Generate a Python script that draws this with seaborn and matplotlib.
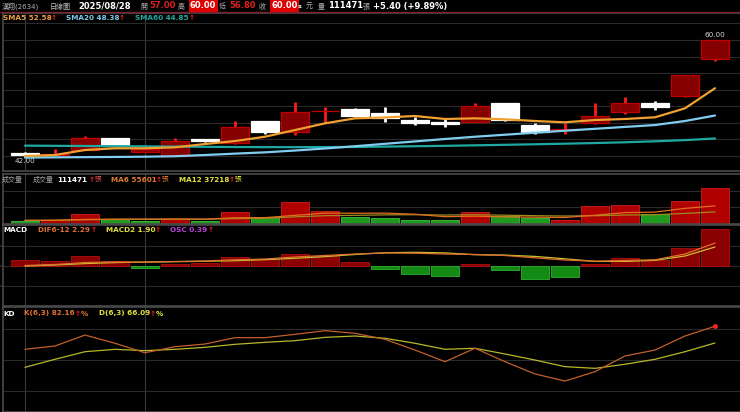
import numpy as np
import pandas as pd
import seaborn as sns
import matplotlib.pyplot as plt

# 漢翔(2634) daily chart, last 24 sessions up to 2025/08/28
opens = [42.6, 42.35, 43.1, 45.0, 42.8, 42.2, 44.7, 44.1, 47.55, 45.9, 49.1, 49.4,
         48.7, 47.7, 47.45, 47.45, 50.35, 47.0, 46.2, 47.2, 48.9, 50.25, 51.4, 57.0]
highs = [42.7, 43.2, 45.3, 45.0, 43.4, 45.0, 44.75, 47.6, 47.55, 50.45, 49.75, 49.55,
         49.75, 48.1, 47.8, 50.35, 50.35, 47.2, 47.2, 50.35, 51.2, 50.65, 54.6, 60.0]
lows = [42.0, 42.3, 43.1, 43.7, 42.7, 42.2, 44.35, 44.0, 45.5, 45.4, 47.2, 48.1,
        47.45, 46.85, 46.65, 47.4, 47.6, 45.55, 45.6, 47.1, 48.6, 49.25, 51.2, 56.8]
closes = [42.3, 42.5, 45.0, 43.75, 43.3, 44.45, 44.4, 46.65, 45.9, 48.9, 49.15, 48.35,
          47.95, 47.2, 47.05, 49.9, 47.7, 45.9, 46.3, 48.3, 50.25, 49.65, 54.6, 60.0]

sma5 = [42.15, 42.31, 43.08, 43.34, 43.34, 43.49, 44.0, 44.46, 45.12, 46.15, 47.18, 47.95,
        48.08, 48.31, 47.85, 47.95, 47.8, 47.54, 47.34, 47.69, 47.85, 48.11, 49.49, 52.58]
sma20 = [41.92, 41.95, 41.98, 42.01, 42.05, 42.12, 42.31, 42.52, 42.72, 43.0, 43.31, 43.66,
         44.03, 44.4, 44.77, 45.12, 45.43, 45.74, 46.05, 46.34, 46.63, 46.92, 47.54, 48.38]
sma60 = [43.75, 43.72, 43.7, 43.67, 43.64, 43.6, 43.57, 43.54, 43.52, 43.52, 43.53, 43.55,
         43.6, 43.66, 43.72, 43.8, 43.88, 43.96, 44.05, 44.15, 44.27, 44.42, 44.6, 44.85]

volume = [10100, 12300, 29800, 15400, 9200, 14400, 10100, 37800, 20600, 67600, 39900, 22400,
          19300, 12300, 13200, 36900, 25500, 19300, 12300, 56200, 59300, 30700, 71600, 111471]
vol_up = [0, 1, 1, 0, 0, 1, 0, 1, 0, 1, 1, 0, 0, 0, 0, 1, 0, 0, 1, 1, 1, 0, 1, 1]
vol_ma6 = [11000, 11500, 14000, 15000, 15000, 15500, 15000, 19000, 19500, 26600, 33500, 33000,
           33500, 30000, 22400, 24000, 21800, 21000, 20000, 27000, 35000, 36500, 48000, 55601]
vol_ma12 = [11000, 11500, 13000, 14000, 14200, 14500, 14500, 16500, 17500, 22000, 25500, 26600,
            28000, 28500, 27500, 28300, 27000, 25500, 24500, 25500, 27500, 28500, 32500, 37218]

dif = [0.05, 0.15, 0.35, 0.40, 0.38, 0.45, 0.50, 0.62, 0.70, 0.90, 1.05, 1.20,
       1.30, 1.28, 1.20, 1.15, 1.05, 0.82, 0.60, 0.48, 0.55, 0.62, 1.20, 2.29]
macd = [-0.01, 0.10, 0.24, 0.34, 0.40, 0.43, 0.47, 0.53, 0.63, 0.77, 0.94, 1.15,
        1.33, 1.37, 1.31, 1.13, 1.09, 0.96, 0.72, 0.46, 0.46, 0.56, 1.00, 1.90]
osc = [0.064, 0.053, 0.11, 0.056, -0.018, 0.018, 0.029, 0.093, 0.071, 0.128, 0.11, 0.046,
       -0.032, -0.088, -0.106, 0.018, -0.043, -0.142, -0.12, 0.018, 0.088, 0.064, 0.195, 0.39]

k_line = [60.0, 63.2, 73.7, 65.8, 56.7, 62.5, 65.1, 71.2, 71.2, 74.4, 77.9, 75.4,
          69.6, 59.3, 48.1, 61.0, 48.1, 36.3, 29.5, 38.5, 53.6, 59.3, 72.8, 82.16]
d_line = [42.7, 50.4, 57.7, 60.0, 58.7, 60.0, 61.9, 64.8, 66.7, 68.3, 71.5, 72.8,
          70.6, 65.8, 60.0, 61.0, 55.5, 49.7, 43.3, 41.7, 45.6, 50.4, 57.7, 66.09]

df = pd.DataFrame({'day': np.arange(len(closes)), 'open': opens, 'high': highs, 'low': lows,
                   'close': closes, 'sma5': sma5, 'sma20': sma20, 'sma60': sma60,
                   'vol': volume, 'vol_up': vol_up, 'ma6': vol_ma6, 'ma12': vol_ma12,
                   'dif': dif, 'macd': macd, 'osc': osc, 'k': k_line, 'd': d_line})
df['up'] = df['close'] >= df['open']

W, H = 740, 412
sns.set_theme(style="dark", rc={'axes.facecolor': 'black', 'figure.facecolor': 'black',
                                'grid.color': '#2a2a2a', 'grid.linewidth': 0.8})
plt.rcParams['font.family'] = ['DejaVu Sans', 'Noto Sans CJK TC']

fig = plt.figure(figsize=(7.4, 4.12), dpi=100, facecolor='black')


def panel(top, bottom):
    ax = fig.add_axes([3 / W, 1 - bottom / H, 737 / W, (bottom - top) / H])
    ax.set_facecolor('black')
    ax.set_xlim(-0.733, 23.833)
    ax.set_xticks([])
    ax.tick_params(left=False, labelleft=False, bottom=False, labelbottom=False)
    ax.grid(axis='y')
    ax.spines['right'].set_visible(False)
    for s in ['left', 'top', 'bottom']:
        ax.spines[s].set_color('#4a4a4a')
        ax.spines[s].set_linewidth(1.2)
    for xv in [0, 4]:
        ax.axvline(xv, color='#3a3a3a', lw=0.8, zorder=0)
    return ax


def put(x, y, s, color, size=5.2, weight='bold', **kw):
    fig.text(x / W, 1 - y / H, s, color=color, fontsize=size, fontweight=weight,
             va='center', ha='left', **kw)


# ---- price panel
ax_p = panel(13, 171)
ax_p.set_ylim(39.85, 64.15)
ax_p.set_yticks([42.15, 44.7, 47.25, 49.8, 52.35, 54.9, 57.45, 60.0, 62.55])
wick_col = np.where(df['up'], '#ff1a1a', '#ffffff')
ax_p.vlines(df['day'], df['low'], df['high'], colors=wick_col, lw=2.0, zorder=2)
body_col = np.where(df['up'], '#850000', '#ffffff')
edge_col = np.where(df['up'], '#c00000', '#ffffff')
ax_p.bar(df['day'], (df['close'] - df['open']).abs(), bottom=df[['open', 'close']].min(axis=1),
         width=0.93, color=body_col, edgecolor=edge_col, linewidth=0.9, zorder=3)
sns.lineplot(data=df, x='day', y='sma60', ax=ax_p, color='#1fa8a2', lw=1.6, zorder=4)
sns.lineplot(data=df, x='day', y='sma20', ax=ax_p, color='#80cdef', lw=1.6, zorder=4)
sns.lineplot(data=df, x='day', y='sma5', ax=ax_p, color='#f0a030', lw=1.6, zorder=5)
ax_p.set_xlabel('')
ax_p.set_ylabel('')
ax_p.annotate('60.00', xy=(23, df['high'].max()), xytext=(0, 1.5), textcoords='offset points',
              ha='center', va='bottom', color='#d8d8d8', fontsize=5.2)
ax_p.annotate('42.00', xy=(0, df['low'].min()), xytext=(0, -1), textcoords='offset points',
              ha='center', va='top', color='#d8d8d8', fontsize=5.2)

# ---- volume panel
ax_v = panel(174, 224)
ax_v.set_ylim(0, 153500)
ax_v.set_yticks([51200, 102300])
vcol = np.where(df['vol_up'] == 1, '#b00000', '#1f9a1f')
vedge = np.where(df['vol_up'] == 1, '#d02020', '#40c040')
ax_v.bar(df['day'], df['vol'], width=0.95, color=vcol, edgecolor=vedge, linewidth=0.6, zorder=2)
sns.lineplot(data=df, x='day', y='ma12', ax=ax_v, color='#a08a20', lw=0.9, zorder=3)
sns.lineplot(data=df, x='day', y='ma6', ax=ax_v, color='#e07020', lw=0.9, zorder=3)
ax_v.set_xlabel('')
ax_v.set_ylabel('')

# ---- MACD panel
ax_m = panel(225, 306)
ax_m.set_ylim(-4.0, 4.1)
ax_m.set_yticks([-2, 0, 2])
ax_o = ax_m.twinx()
ax_o.set_ylim(-0.426, 0.436)
ax_o.axis('off')
ocol = np.where(df['osc'] >= 0, '#8b0000', '#138a13')
oedge = np.where(df['osc'] >= 0, '#b01010', '#30b030')
ax_o.bar(df['day'], df['osc'], width=0.95, color=ocol, edgecolor=oedge, linewidth=0.6, zorder=2)
ax_l = ax_m.twinx()
ax_l.set_ylim(-4.0, 4.1)
ax_l.axis('off')
sns.lineplot(data=df, x='day', y='macd', ax=ax_l, color='#c8c030', lw=0.9)
sns.lineplot(data=df, x='day', y='dif', ax=ax_l, color='#e07030', lw=0.9)

# ---- KD panel
ax_k = panel(307, 412)
ax_k.set_ylim(-0.3, 100.7)
ax_k.set_yticks([20, 50, 80])
sns.lineplot(data=df, x='day', y='d', ax=ax_k, color='#b8b828', lw=0.9)
sns.lineplot(data=df, x='day', y='k', ax=ax_k, color='#c0602a', lw=0.9)
ax_k.plot(df['day'].iloc[-1], df['k'].iloc[-1], 'o', color='#ff2020', ms=2.5)
ax_k.set_xlabel('')
ax_k.set_ylabel('')

# ---- header
fig.add_artist(plt.Line2D([0, 1], [1 - 12 / H, 1 - 12 / H], color='#7a2030', lw=1.0))
put(2, 6, '漢翔(2634)', '#b0b0b0', size=5, weight='normal')
put(50, 6, '日線圖', '#c0c0c0', size=5, weight='normal')
put(78, 6, '2025/08/28', 'white', size=6)
put(140, 6, '開', '#b0b0b0', size=5, weight='normal')
put(149, 6, '57.00', '#e02020', size=6)
put(178, 6, '高', '#b0b0b0', size=5, weight='normal')
put(190, 6, '60.00', 'white', size=6, bbox=dict(boxstyle='square,pad=0.15', fc='#e00000', ec='none'))
put(219, 6, '低', '#b0b0b0', size=5, weight='normal')
put(229, 6, '56.80', '#e02020', size=6)
put(259, 6, '收', '#b0b0b0', size=5, weight='normal')
put(271, 6, '60.00', 'white', size=6, bbox=dict(boxstyle='square,pad=0.15', fc='#e00000', ec='none'))
put(298, 6.5, 's', 'white', size=4.5)
put(306, 6, '元', '#b0b0b0', size=5, weight='normal')
put(318, 6, '量', '#b0b0b0', size=5, weight='normal')
put(328, 6, '111471', 'white', size=6)
put(363, 6, '張', '#b0b0b0', size=5, weight='normal')
put(373, 6, '+5.40 (+9.89%)', 'white', size=6)

# ---- panel labels
put(3, 17.5, 'SMA5 52.58', '#e8a040')
put(51, 17.5, '↑', '#ff2020')
put(66, 17.5, 'SMA20 48.38', '#7ec8e8')
put(119, 17.5, '↑', '#ff2020')
put(135, 17.5, 'SMA60 44.85', '#20a8a0')
put(189, 17.5, '↑', '#ff2020')

put(2, 179.5, '成交量', '#a0a0a0', size=5, weight='normal')
put(33, 179.5, '成交量', '#a0a0a0', size=5, weight='normal')
put(57, 179.5, '111471', 'white')
put(89, 179.5, '↑', '#ff2020')
put(95, 179.5, '張', '#e05050', size=4.8, weight='normal')
put(111, 179.5, 'MA6 55601', '#e07a30')
put(156, 179.5, '↑', '#ff2020')
put(162, 179.5, '張', '#e07a30', size=4.8, weight='normal')
put(179, 179.5, 'MA12 37218', '#e0e040')
put(229, 179.5, '↑', '#ff2020')
put(235, 179.5, '張', '#e0e040', size=4.8, weight='normal')

put(3, 230.5, 'MACD', 'white')
put(38, 230.5, 'DIF6-12 2.29', '#e07030')
put(91, 230.5, '↑', '#ff2020')
put(106, 230.5, 'MACD2 1.90', '#e0e040')
put(155, 230.5, '↑', '#ff2020')
put(170, 230.5, 'OSC 0.39', '#c040e0')
put(208, 230.5, '↑', '#ff2020')

put(3, 313.5, 'KD', 'white')
put(24, 313.5, 'K(6,3) 82.16', '#e07030')
put(75, 313.5, '↑', '#ff2020')
put(81, 313.5, '%', '#e07030')
put(99, 313.5, 'D(6,3) 66.09', '#e0e040')
put(150, 313.5, '↑', '#ff2020')
put(156, 313.5, '%', '#e0e040')

fig.savefig('out.png', dpi=100, facecolor='black')
